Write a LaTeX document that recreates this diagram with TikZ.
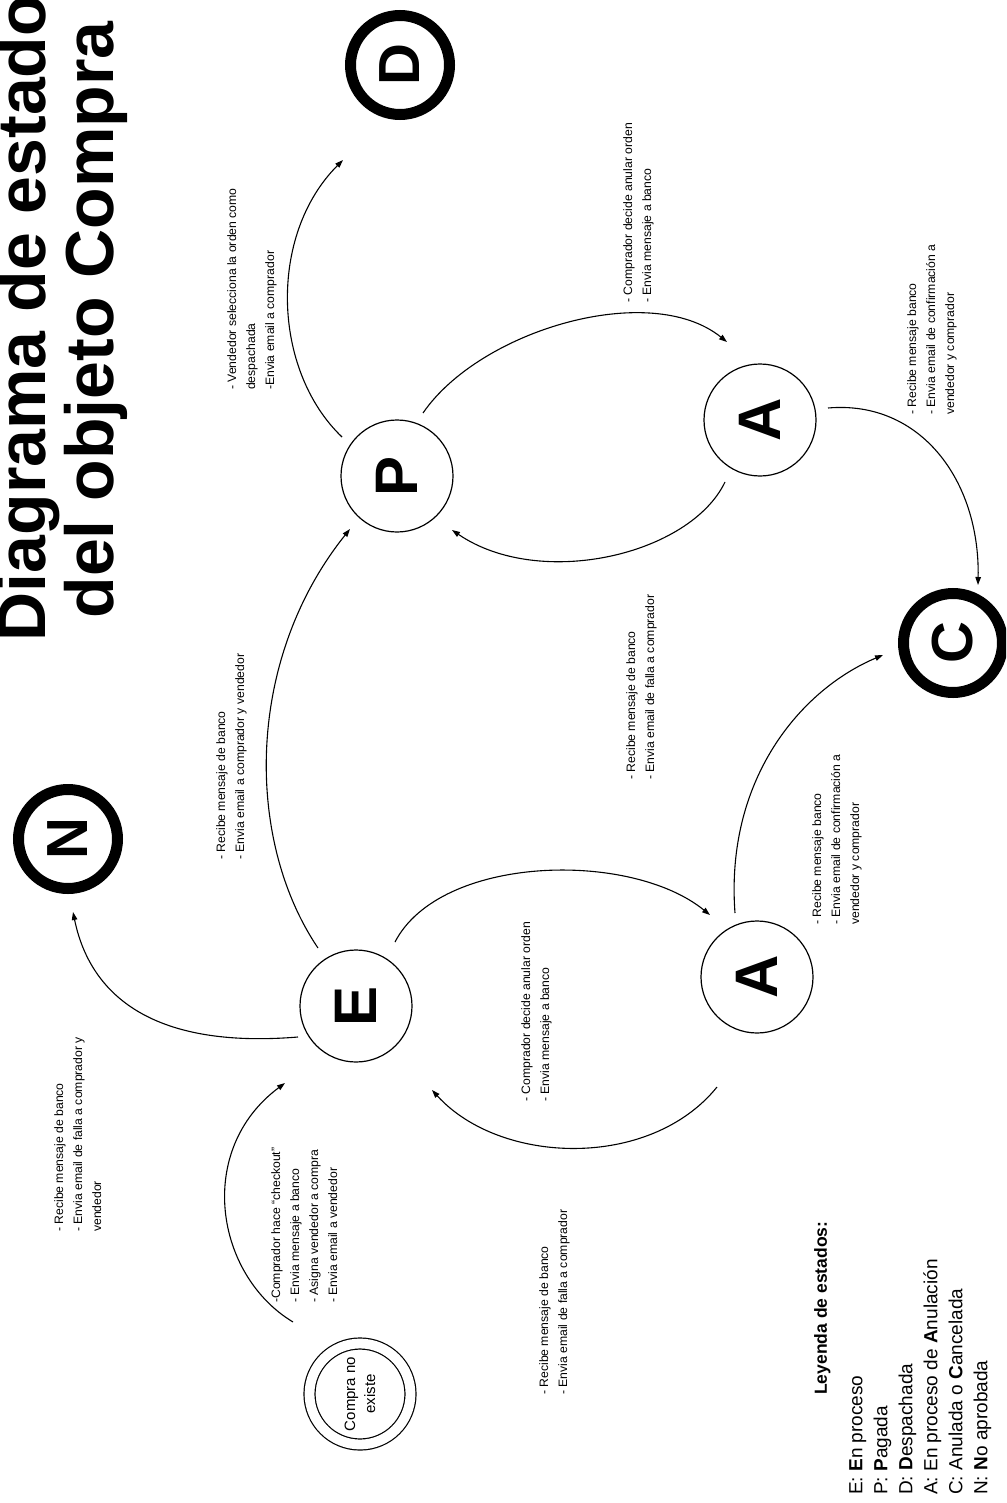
\documentclass[tikz,border=0pt]{standalone}
\usepackage{fontspec}
\setmainfont{Liberation Sans}
\usetikzlibrary{arrows.meta,calc}
\tikzset{
  state/.style={circle, draw, rotate=90, line width=1.2pt, minimum size=112pt,
    inner sep=0pt, font=\fontsize{60}{60}\selectfont\bfseries},
  final/.style={circle, draw, rotate=90, line width=11pt, minimum size=99pt,
    inner sep=0pt, font=\fontsize{58}{58}\selectfont\bfseries},
  initial/.style={circle, draw, rotate=90, line width=1.2pt, double, double distance=9.8pt,
    minimum size=101pt, inner sep=0pt, align=center, font=\fontsize{15}{20}\selectfont},
  arr/.style={line width=1.1pt, -{Triangle[length=8pt,width=5.5pt]}},
  lbl/.style={rotate=90, anchor=north west, align=left, inner sep=0pt,
    font=\fontsize{12.2}{19}\selectfont},
  heading/.style={rotate=90, anchor=base, inner sep=0pt,
    font=\fontsize{68}{68}\selectfont\bfseries},
}
\begin{document}
\begin{tikzpicture}[x=1pt,y=-1pt]
\useasboundingbox (0,0) rectangle (1006,1503);
\clip (0,0) rectangle (1006,1503);

% title
\node[heading] (t1) at (45,318) {Diagrama de estado};
\node[heading] (t2) at (113,320) {del objeto Compra};

% states
\node[initial] (S) at (360,1394) {Compra no\\existe};
\node[state] (E) at (356,1006) {E};
\node[state] (P) at (397,476) {P};
\node[state] (A1) at (757,977) {A};
\node[state] (A2) at (760,420) {A};
\node[final] (C) at (953,643) {C};
\node[final] (N) at (68,839) {N};
\node[final] (D) at (400,65) {D};

% transitions
\draw[arr] ($(S)+(-67,-72)$) .. controls (215,1275) and (195,1150) .. ($(E)+(-71,77)$);
\draw[arr] ($(E)+(-58,31)$) .. controls (140,1050) and (88,985) .. ($(N)+(5,73)$);
\draw[arr] ($(E)+(-38,-58)$) .. controls (245,840) and (245,660) .. ($(P)+(-47,53)$);
\draw[arr] ($(E)+(39,-64)$) .. controls (440,855) and (630,850) .. ($(A1)+(-47,-62)$);
\draw[arr] ($(A1)+(-40,110)$) .. controls (650,1170) and (500,1165) .. ($(E)+(76,84)$);
\draw[arr] ($(A1)+(-22,-64)$) .. controls (725,780) and (800,690) .. ($(C)+(-70,12)$);
\draw[arr] ($(P)+(-55,-39)$) .. controls (272,370) and (268,235) .. ($(D)+(-57,95)$);
\draw[arr] ($(P)+(26,-63)$) .. controls (480,330) and (650,280) .. ($(A2)+(-33,-78)$);
\draw[arr] ($(A2)+(-35,62)$) .. controls (690,555) and (540,590) .. ($(P)+(55,54)$);
\draw[arr] ($(A2)+(68,-12)$) .. controls (920,400) and (980,480) .. ($(C)+(25,-58)$);

% transition labels
\node[lbl] (l1) at (271,1303) {-Comprador hace “checkout”\\- Envia mensaje a banco\\- Asigna vendedor a compra\\- Envia email a vendedor};
\node[lbl] (l2) at (54,1232) {- Recibe mensaje de banco\\- Envia email de falla a comprador y\\vendedor};
\node[lbl] (l3) at (216,860) {- Recibe mensaje de banco\\- Envia email a comprador y vendedor};
\node[lbl] (l4) at (521,1102) {- Comprador decide anular orden\\- Envia mensaje a banco};
\node[lbl] (l5) at (539,1395) {- Recibe mensaje de banco\\- Envia email de falla a comprador};
\node[lbl] (l6) at (812,925) {- Recibe mensaje banco\\- Envia email de confirmación a\\vendedor y comprador};
\node[lbl] (l7) at (227,390) {- Vendedor selecciona la orden como\\despachada\\-Envia email a comprador};
\node[lbl] (l8) at (623,303) {- Comprador decide anular orden\\- Envia mensaje a banco};
\node[lbl] (l9) at (626,780) {- Recibe mensaje de banco\\- Envia email de falla a comprador};
\node[lbl] (l10) at (907,415) {- Recibe mensaje banco\\- Envia email de confirmación a\\vendedor y comprador};

% legend
\node[rotate=90, anchor=north west, inner sep=0pt, font=\fontsize{17.5}{22}\selectfont\bfseries]
  (lt) at (814,1395) {Leyenda de estados:};
\node[rotate=90, anchor=north west, align=left, inner sep=0pt, font=\fontsize{19}{25}\selectfont]
  (lg) at (849,1495) {E: \textbf{E}n proceso\\P: \textbf{P}agada\\D: \textbf{D}espachada\\A: En proceso de \textbf{A}nulación\\C: Anulada o \textbf{C}ancelada\\N: \textbf{N}o aprobada};
\end{tikzpicture}
\end{document}
